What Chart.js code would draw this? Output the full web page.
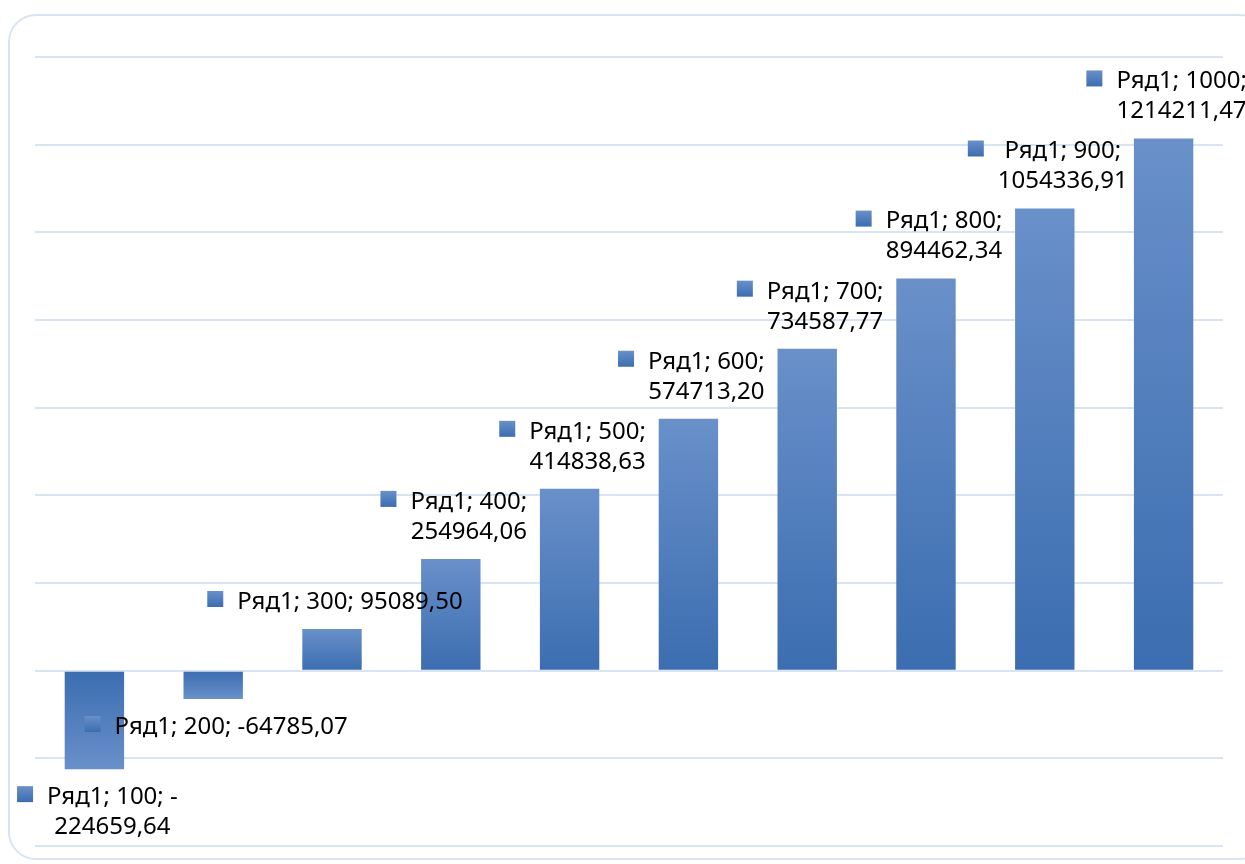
<!DOCTYPE html>
<html>
<head>
<meta charset="utf-8">
<script src="https://cdn.jsdelivr.net/npm/chart.js@4/dist/chart.umd.min.js"></script>
<style>
  html, body { margin: 0; padding: 0; background: #fff; overflow: hidden; }
  #wrap { position: relative; width: 1245px; height: 864px; }
  #frame {
    position: absolute; left: 8px; top: 14px; width: 1260px; height: 846px;
    border: 2px solid #d9e4f3; border-radius: 28px; box-sizing: border-box;
  }
  canvas { position: absolute; left: 0; top: 0; }
</style>
</head>
<body>
<div id="wrap">
  <div id="frame"></div>
  <canvas id="chart" width="1245" height="864"></canvas>
</div>
<script>
const seriesName = "Ряд1";
const categories = ["100", "200", "300", "400", "500", "600", "700", "800", "900", "1000"];
const values = [-224659.64, -64785.07, 95089.50, 254964.06, 414838.63, 574713.20, 734587.77, 894462.34, 1054336.91, 1214211.47];
// which data labels Excel wrapped onto two lines
const wrapped = [true, false, false, true, true, true, true, true, true, true];

const lightBlue = "#6990c9";
const darkBlue = "#3b6db0";

function fmt(v) {
  return v.toFixed(2).replace(".", ",");
}

function labelLines(i) {
  const v = values[i];
  const head = seriesName + "; " + categories[i] + "; ";
  if (!wrapped[i]) return [head + fmt(v)];
  if (v < 0) return [head + "-", fmt(-v)];
  return [head.trim(), fmt(v)];
}

function barGradient(context) {
  const chart = context.chart;
  const y = chart.scales.y;
  if (!y || context.dataIndex === undefined) return darkBlue;
  const v = values[context.dataIndex];
  const y0 = y.getPixelForValue(0);
  const y1 = y.getPixelForValue(v);
  if (!isFinite(y0) || !isFinite(y1) || y0 === y1) return darkBlue;
  const g = chart.ctx.createLinearGradient(0, y1, 0, y0);
  g.addColorStop(0, lightBlue);
  g.addColorStop(1, darkBlue);
  return g;
}

const dataLabels = {
  id: "dataLabels",
  afterDatasetsDraw(chart) {
    const ctx = chart.ctx;
    const meta = chart.getDatasetMeta(0);
    ctx.save();
    ctx.font = "24px 'Noto Sans'";
    ctx.textBaseline = "middle";
    ctx.textAlign = "center";
    const lineH = 30;
    const keySize = 16;
    const gap = 14;
    meta.data.forEach((bar, i) => {
      const lines = labelLines(i);
      const textW = Math.max(...lines.map(l => ctx.measureText(l).width));
      const boxW = keySize + gap + textW;
      const left = bar.x + 3 - boxW / 2;
      const textCx = left + keySize + gap + textW / 2;
      let firstY;
      if (values[i] >= 0) {
        firstY = bar.y - 27 - (lines.length - 1) * lineH;
      } else {
        firstY = bar.y + 28;
      }
      // legend key
      const kTop = firstY - keySize / 2 - 3;
      const kg = ctx.createLinearGradient(0, kTop, 0, kTop + keySize);
      kg.addColorStop(0, lightBlue);
      kg.addColorStop(1, darkBlue);
      ctx.fillStyle = kg;
      ctx.fillRect(left, kTop, keySize, keySize);
      ctx.fillStyle = "#000";
      lines.forEach((l, k) => ctx.fillText(l, textCx, firstY + k * lineH));
    });
    ctx.restore();
  }
};

new Chart(document.getElementById("chart"), {
  type: "bar",
  data: {
    labels: categories,
    datasets: [{
      label: seriesName,
      data: values,
      backgroundColor: barGradient,
      barPercentage: 0.5,
      categoryPercentage: 1.0,
      borderWidth: 0
    }]
  },
  options: {
    responsive: false,
    animation: false,
    layout: { padding: { left: 35, top: 57, right: 22, bottom: 18 } },
    plugins: {
      legend: { display: false },
      tooltip: { enabled: false }
    },
    scales: {
      x: {
        display: false
      },
      y: {
        min: -400000,
        max: 1400000,
        ticks: { display: false, stepSize: 200000 },
        grid: { color: "#d9e4f3", lineWidth: 2, drawTicks: false },
        border: { display: false }
      }
    }
  },
  plugins: [dataLabels]
});
</script>
</body>
</html>
